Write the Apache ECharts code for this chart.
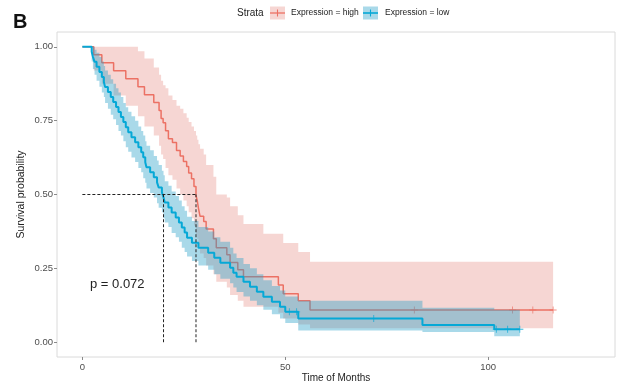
<!DOCTYPE html>
<html>
<head>
<meta charset="utf-8">
<script src="https://cdn.jsdelivr.net/npm/echarts@6/dist/echarts.min.js"></script>
<style>
  html, body { margin: 0; padding: 0; background: #ffffff; }
  #chart { width: 619px; height: 387px; }
</style>
</head>
<body>
<div id="chart"></div>
<script>
// Kaplan–Meier estimate, Expression = high: step start time, survival and 95% CI after each step
const highTime  = [0, 2.8, 4.8, 7.7, 10.7, 13.7, 15.3, 17.6, 18.9, 19.4, 19.9, 20.5, 21.2, 22.2, 23.2, 24.1, 24.9, 25.7, 26.2, 26.9, 27.5, 28.0, 28.3, 28.6, 29.0, 29.9, 30.5, 32.3, 33.0, 35.6, 36.4, 38.3, 39.7, 44.6, 48.3, 49.5, 53.2, 56.1];
const highSurv  = [1.000, 0.973, 0.946, 0.919, 0.892, 0.865, 0.838, 0.811, 0.784, 0.757, 0.743, 0.716, 0.689, 0.676, 0.649, 0.630, 0.612, 0.595, 0.573, 0.553, 0.527, 0.497, 0.480, 0.454, 0.426, 0.409, 0.383, 0.350, 0.320, 0.296, 0.270, 0.245, 0.222, 0.222, 0.194, 0.164, 0.140, 0.109];
const highUpper = [1, 1, 1, 1, 1, 0.985, 0.96, 0.93, 0.905, 0.885, 0.87, 0.86, 0.835, 0.82, 0.80, 0.79, 0.775, 0.76, 0.745, 0.73, 0.715, 0.70, 0.685, 0.67, 0.655, 0.635, 0.60, 0.56, 0.50, 0.49, 0.46, 0.43, 0.40, 0.367, 0.367, 0.336, 0.305, 0.272];
const highLower = [1, 0.92, 0.875, 0.835, 0.80, 0.765, 0.73, 0.70, 0.665, 0.635, 0.62, 0.59, 0.565, 0.55, 0.52, 0.50, 0.48, 0.46, 0.44, 0.42, 0.395, 0.365, 0.35, 0.325, 0.30, 0.285, 0.26, 0.23, 0.205, 0.185, 0.16, 0.14, 0.12, 0.12, 0.10, 0.08, 0.06, 0.047];
const highEnd = 116;
const highCensor = [81.8, 106.0, 111.0, 116.0];

// Kaplan–Meier estimate, Expression = low
const lowTime  = [0, 2.3, 2.6, 3.0, 3.5, 4.2, 4.8, 5.3, 5.6, 6.3, 7.0, 7.6, 8.3, 8.9, 9.5, 10.1, 10.7, 11.3, 12.1, 13.0, 13.8, 14.5, 15.0, 15.5, 15.8, 16.7, 17.6, 18.4, 18.8, 19.6, 20.0, 20.3, 21.2, 22.0, 23.0, 23.8, 24.5, 25.2, 25.8, 27.0, 28.6, 31.0, 32.5, 34.0, 36.4, 37.2, 38.0, 39.7, 41.3, 43.0, 44.6, 46.7, 48.7, 50.0, 53.2, 83.8, 101.5];
const lowSurv  = [1.000, 0.983, 0.966, 0.949, 0.932, 0.915, 0.898, 0.881, 0.864, 0.847, 0.830, 0.813, 0.796, 0.779, 0.762, 0.745, 0.728, 0.711, 0.694, 0.677, 0.660, 0.643, 0.626, 0.609, 0.592, 0.575, 0.558, 0.541, 0.524, 0.507, 0.490, 0.473, 0.456, 0.439, 0.422, 0.405, 0.388, 0.371, 0.354, 0.337, 0.320, 0.303, 0.286, 0.269, 0.252, 0.235, 0.222, 0.205, 0.188, 0.171, 0.154, 0.137, 0.120, 0.103, 0.080, 0.058, 0.044];
const lowLower = [1.0, 0.95, 0.925, 0.905, 0.885, 0.865, 0.845, 0.83, 0.81, 0.79, 0.77, 0.755, 0.735, 0.715, 0.70, 0.68, 0.66, 0.645, 0.625, 0.61, 0.59, 0.575, 0.555, 0.54, 0.52, 0.505, 0.49, 0.47, 0.455, 0.44, 0.42, 0.405, 0.39, 0.37, 0.355, 0.34, 0.32, 0.305, 0.29, 0.275, 0.26, 0.245, 0.23, 0.215, 0.20, 0.185, 0.17, 0.155, 0.14, 0.125, 0.11, 0.095, 0.08, 0.065, 0.04, 0.035, 0.02];
const lowUpper = [1.0, 1.0, 1.0, 0.99, 0.98, 0.965, 0.95, 0.935, 0.92, 0.905, 0.89, 0.875, 0.86, 0.845, 0.83, 0.81, 0.795, 0.78, 0.765, 0.75, 0.73, 0.715, 0.70, 0.68, 0.665, 0.65, 0.63, 0.615, 0.60, 0.58, 0.565, 0.545, 0.53, 0.51, 0.495, 0.48, 0.46, 0.445, 0.425, 0.41, 0.39, 0.375, 0.355, 0.34, 0.32, 0.30, 0.285, 0.265, 0.25, 0.23, 0.21, 0.19, 0.175, 0.155, 0.14, 0.117, 0.11];
const lowEnd = 107.8;
const lowCensor = [51.0, 52.8, 71.8, 102.0, 104.8, 107.8];

// Median survival times and log-rank p-value
const medianHigh = 28.0;
const medianLow = 20.0;
const pLabel = 'p = 0.072';

// Axis ticks
const xTicks = [0, 50, 100];
const yTicks = [0, 0.25, 0.5, 0.75, 1];

const FONT = 'Liberation Sans, Arial, Helvetica, sans-serif';
const HIGH_LINE = '#EC7164';
const HIGH_BAND = 'rgba(226,118,110,0.30)';
const LOW_LINE = '#06A8D6';
const LOW_BAND = 'rgba(40,160,200,0.40)';

function stepData(time, surv, end) {
  const d = time.map((t, i) => [t, surv[i]]);
  d.push([end, surv[surv.length - 1]]);
  return d;
}

function survAt(time, surv, t) {
  let s = surv[0];
  for (let i = 0; i < time.length; i++) { if (time[i] <= t) s = surv[i]; }
  return s;
}

// Confidence band as one stepped polygon: upper edge left→right, lower edge right→left
function bandSeries(time, lower, upper, end, fill, z) {
  return {
    type: 'custom',
    z: z,
    silent: true,
    data: [[time[0], lower[0]]],
    encode: { x: 0, y: 1 },
    renderItem: function (params, api) {
      const top = [], bot = [];
      for (let i = 0; i < time.length; i++) {
        const t0 = time[i];
        const t1 = i + 1 < time.length ? time[i + 1] : end;
        top.push(api.coord([t0, upper[i]]), api.coord([t1, upper[i]]));
        bot.push(api.coord([t0, lower[i]]), api.coord([t1, lower[i]]));
      }
      return {
        type: 'polygon',
        shape: { points: top.concat(bot.reverse()) },
        style: { fill: fill, stroke: null }
      };
    }
  };
}

function censorSeries(times, time, surv, color, z) {
  return {
    type: 'scatter',
    z: z,
    silent: true,
    symbol: 'path://M-0.6,-5 L0.6,-5 L0.6,-0.6 L5,-0.6 L5,0.6 L0.6,0.6 L0.6,5 L-0.6,5 L-0.6,0.6 L-5,0.6 L-5,-0.6 L-0.6,-0.6 Z',
    symbolSize: 7,
    itemStyle: { color: color },
    data: times.map(t => [t, survAt(time, surv, t)])
  };
}

function dashed(data) {
  return {
    type: 'line',
    z: 10,
    silent: true,
    symbol: 'none',
    data: data,
    lineStyle: { color: '#222222', width: 1, type: [3, 2] }
  };
}

const chart = echarts.init(document.getElementById('chart'), null, { renderer: 'canvas' });

chart.setOption({
  animation: false,
  backgroundColor: '#ffffff',
  grid: {
    left: 57, top: 32, width: 558, height: 325,
    outerBoundsMode: 'none',
    containLabel: false,
    show: true, borderColor: '#DADADA', borderWidth: 1, backgroundColor: 'transparent'
  },
  xAxis: {
    type: 'value',
    min: -6.25, max: 131.25,
    position: 'bottom',
    name: 'Time of Months',
    nameLocation: 'middle',
    nameGap: 16,
    nameMoveOverlap: false,
    nameTextStyle: { fontFamily: FONT, fontSize: 10, color: '#222222' },
    axisLine: { show: false, onZero: false },
    axisTick: { show: true, customValues: xTicks, length: 3, lineStyle: { color: '#8A8A8A' } },
    axisLabel: { customValues: xTicks, fontFamily: FONT, fontSize: 9.5, color: '#4D4D4D', margin: 5 },
    splitLine: { show: false }
  },
  yAxis: {
    type: 'value',
    min: -0.05, max: 1.05,
    position: 'left',
    name: 'Survival probability',
    nameLocation: 'middle',
    nameGap: 30,
    nameMoveOverlap: false,
    nameTextStyle: { fontFamily: FONT, fontSize: 10.5, color: '#222222' },
    axisLine: { show: false, onZero: false },
    axisTick: { show: true, customValues: yTicks, length: 3, lineStyle: { color: '#8A8A8A' } },
    axisLabel: {
      customValues: yTicks,
      fontFamily: FONT, fontSize: 9.5, color: '#4D4D4D', margin: 4,
      formatter: v => v.toFixed(2)
    },
    splitLine: { show: false }
  },
  series: [
    bandSeries(highTime, highLower, highUpper, highEnd, HIGH_BAND, 1),
    {
      type: 'line', z: 2, silent: true, symbol: 'none', step: 'end',
      data: stepData(highTime, highSurv, highEnd),
      lineStyle: { color: HIGH_LINE, width: 1.5 }
    },
    censorSeries(highCensor, highTime, highSurv, HIGH_LINE, 2),
    bandSeries(lowTime, lowLower, lowUpper, lowEnd, LOW_BAND, 3),
    {
      type: 'line', z: 4, silent: true, symbol: 'none', step: 'end',
      data: stepData(lowTime, lowSurv, lowEnd),
      lineStyle: { color: LOW_LINE, width: 2 }
    },
    censorSeries(lowCensor, lowTime, lowSurv, LOW_LINE, 4),
    dashed([[0, 0.5], [medianHigh, 0.5]]),
    dashed([[medianLow, 0], [medianLow, 0.5]]),
    dashed([[medianHigh, 0], [medianHigh, 0.5]])
  ],
  graphic: [
    { type: 'text', left: 13, top: 12, style: { text: 'B', font: 'bold 20px ' + FONT, fill: '#111111' } },
    { type: 'text', x: 90, y: 284, style: { text: pLabel, font: '13px ' + FONT, fill: '#222222', verticalAlign: 'middle' } },
    { type: 'text', x: 237, y: 13, style: { text: 'Strata', font: '10px ' + FONT, fill: '#222222', verticalAlign: 'middle' } },
    { type: 'rect', shape: { x: 270, y: 6.5, width: 15, height: 13 }, style: { fill: HIGH_BAND } },
    { type: 'line', shape: { x1: 270, y1: 13, x2: 285, y2: 13 }, style: { stroke: HIGH_LINE, lineWidth: 1.3 } },
    { type: 'line', shape: { x1: 277.5, y1: 9.5, x2: 277.5, y2: 16.5 }, style: { stroke: HIGH_LINE, lineWidth: 1.1 } },
    { type: 'text', x: 291, y: 13, style: { text: 'Expression = high', font: '8.5px ' + FONT, fill: '#222222', verticalAlign: 'middle' } },
    { type: 'rect', shape: { x: 363, y: 6.5, width: 15, height: 13 }, style: { fill: LOW_BAND } },
    { type: 'line', shape: { x1: 363, y1: 13, x2: 378, y2: 13 }, style: { stroke: LOW_LINE, lineWidth: 1.6 } },
    { type: 'line', shape: { x1: 370.5, y1: 9.5, x2: 370.5, y2: 16.5 }, style: { stroke: LOW_LINE, lineWidth: 1.1 } },
    { type: 'text', x: 385, y: 13, style: { text: 'Expression = low', font: '8.5px ' + FONT, fill: '#222222', verticalAlign: 'middle' } }
  ]
});
</script>
</body>
</html>
